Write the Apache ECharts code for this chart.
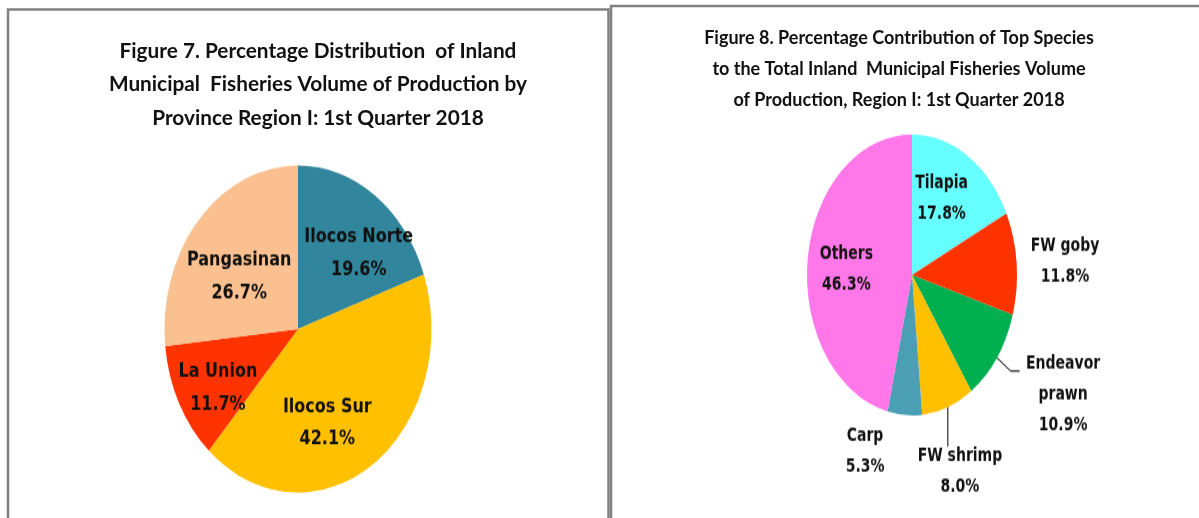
<!DOCTYPE html>
<html>
<head>
<meta charset="utf-8">
<script src="https://cdn.jsdelivr.net/npm/echarts@6.0.0/dist/echarts.min.js"></script>
<style>
  html, body { margin: 0; padding: 0; background: #fff; overflow: hidden; }
  #frame { position: absolute; left: 0; top: 0; width: 1199px; height: 518px; }
  /* pies are drawn round, then stretched into the tall ovals of the original */
  #pie1 { position: absolute; left: 38px; top: 118.5px; width: 520px; height: 420px;
          transform: scaleY(1.225); transform-origin: 50% 50%; }
  #pie2 { position: absolute; left: 692px; top: 84.5px; width: 440px; height: 380px;
          transform: scaleY(1.338); transform-origin: 50% 50%; }
</style>
</head>
<body>
<div id="frame"></div>
<div id="pie1"></div>
<div id="pie2"></div>
<script>
// Figure 7 - share by province (%)
var provinces = ['Ilocos Norte', 'Ilocos Sur', 'La Union', 'Pangasinan'];
var provinceShare = [19.6, 42.1, 11.7, 26.7];
var provinceColors = ['#31859C', '#FFC000', '#FF3300', '#FAC090'];

// Figure 8 - share by species (%)
var species = ['Tilapia', 'FW goby', 'Endeavor prawn', 'FW shrimp', 'Carp', 'Others'];
var speciesShare = [17.8, 11.8, 10.9, 8.0, 5.3, 46.3];
var speciesColors = ['#66FFFF', '#FF3300', '#00B050', '#FFC000', '#4A9FB5', '#FF77E8'];

var title7 = 'Figure 7. Percentage Distribution  of Inland\nMunicipal  Fisheries Volume of Production by\nProvince Region I: 1st Quarter 2018';
var title8 = 'Figure 8. Percentage Contribution of Top Species\nto the Total Inland  Municipal Fisheries Volume\nof Production, Region I: 1st Quarter 2018';

var titleFont = "Lato, 'DejaVu Sans Condensed', sans-serif";
var labelFont = "'DejaVu Sans', sans-serif";

// frame: titles and the two panel borders
var frame = echarts.init(document.getElementById('frame'));
frame.setOption({
  animation: false,
  title: [
    {
      text: title7, left: 318, top: 34.5, textAlign: 'center', padding: 0,
      textStyle: { fontFamily: titleFont, fontWeight: 'bold', fontSize: 20.8, lineHeight: 33.5, color: '#111' }
    },
    {
      text: title8, left: 899, top: 22.5, textAlign: 'center', padding: 0,
      textStyle: { fontFamily: titleFont, fontWeight: 'bold', fontSize: 18, lineHeight: 31, color: '#111' }
    }
  ],
  graphic: [
    {
      type: 'polyline', silent: true,
      shape: { points: [[8, 530], [8, 9.5], [608.5, 9.5], [608.5, 530]] },
      style: { stroke: '#808080', lineWidth: 2.5, fill: null }
    },
    {
      type: 'polyline', silent: true,
      shape: { points: [[611, 530], [611, 6], [1210, 6]] },
      style: { stroke: '#808080', lineWidth: 2.5, fill: null }
    }
  ]
});

// left pie: labels inside, nudged to where the original has them
var nudge1 = [[20.5, -4.6], [-9.5, 19], [-18, 16.5], [-7, 4]];
var pie1 = echarts.init(document.getElementById('pie1'));
pie1.setOption({
  animation: false,
  series: [{
    type: 'pie',
    center: [260, 210],
    radius: 133.5,
    startAngle: 90,
    clockwise: true,
    avoidLabelOverlap: false,
    silent: true,
    label: {
      position: 'inside',
      formatter: function (p) { return p.name + '\n' + p.value.toFixed(1) + '%'; },
      fontFamily: labelFont, fontWeight: 'bold', fontSize: 16, lineHeight: 26.5, color: '#111'
    },
    labelLine: { show: false },
    labelLayout: function (p) {
      var n = nudge1[p.dataIndex];
      return { dx: n[0], dy: n[1] };
    },
    data: provinces.map(function (name, i) {
      return { name: name, value: provinceShare[i], itemStyle: { color: provinceColors[i] } };
    })
  }]
});

// right pie: two labels inside, the rest outside, two with leader lines
var cx2 = 220, cy2 = 190, r2 = 105;
var outside2 = [false, true, true, true, true, false];
var leader2 = [false, false, true, true, false, false];
var nudge2 = [[0.2, -10], [43.4, -1.7], [38.5, 17.4], [3.7, 38.8], [-34.7, 27.2], [-10.5, 2.3]];
var total2 = speciesShare.reduce(function (a, b) { return a + b; }, 0);

// middle of a slice, clockwise from 12 o'clock, in radians
function midAngle2(i) {
  var before = 0;
  for (var j = 0; j < i; j++) before += speciesShare[j];
  return (before + speciesShare[i] / 2) / total2 * 2 * Math.PI;
}

var pie2 = echarts.init(document.getElementById('pie2'));
pie2.setOption({
  animation: false,
  series: [{
    type: 'pie',
    center: [cx2, cy2],
    radius: r2,
    startAngle: 90,
    clockwise: true,
    avoidLabelOverlap: false,
    silent: true,
    label: {
      position: 'inside',
      formatter: function (p) {
        var name = p.name.length > 10 ? p.name.replace(' ', '\n') : p.name;
        return name + '\n' + p.value.toFixed(1) + '%';
      },
      fontFamily: labelFont, fontWeight: 'bold', fontSize: 14, lineHeight: 23, color: '#111'
    },
    labelLine: { show: false },
    labelLayout: function (p) {
      var i = p.dataIndex;
      var n = nudge2[i];
      var out = { dx: n[0], dy: n[1], align: 'center', verticalAlign: 'middle' };
      if (species[i] === 'FW shrimp') {
        // the shrimp leader drops straight down from the rim
        var a = midAngle2(i);
        var x = cx2 + r2 * Math.sin(a), y = cy2 - r2 * Math.cos(a);
        out.labelLinePoints = [[x, y], [x, y + 29.5], [x, y + 29.5]];
      }
      return out;
    },
    data: species.map(function (name, i) {
      var item = { name: name, value: speciesShare[i], itemStyle: { color: speciesColors[i] } };
      if (outside2[i]) {
        item.label = { position: 'outside' };
        item.labelLine = {
          show: leader2[i],
          length: leader2[i] ? (name === 'FW shrimp' ? 10 : 17) : 0,
          length2: name === 'Endeavor prawn' ? 9 : 0,
          lineStyle: { color: '#000', width: 1 }
        };
      }
      return item;
    })
  }]
});
</script>
</body>
</html>
